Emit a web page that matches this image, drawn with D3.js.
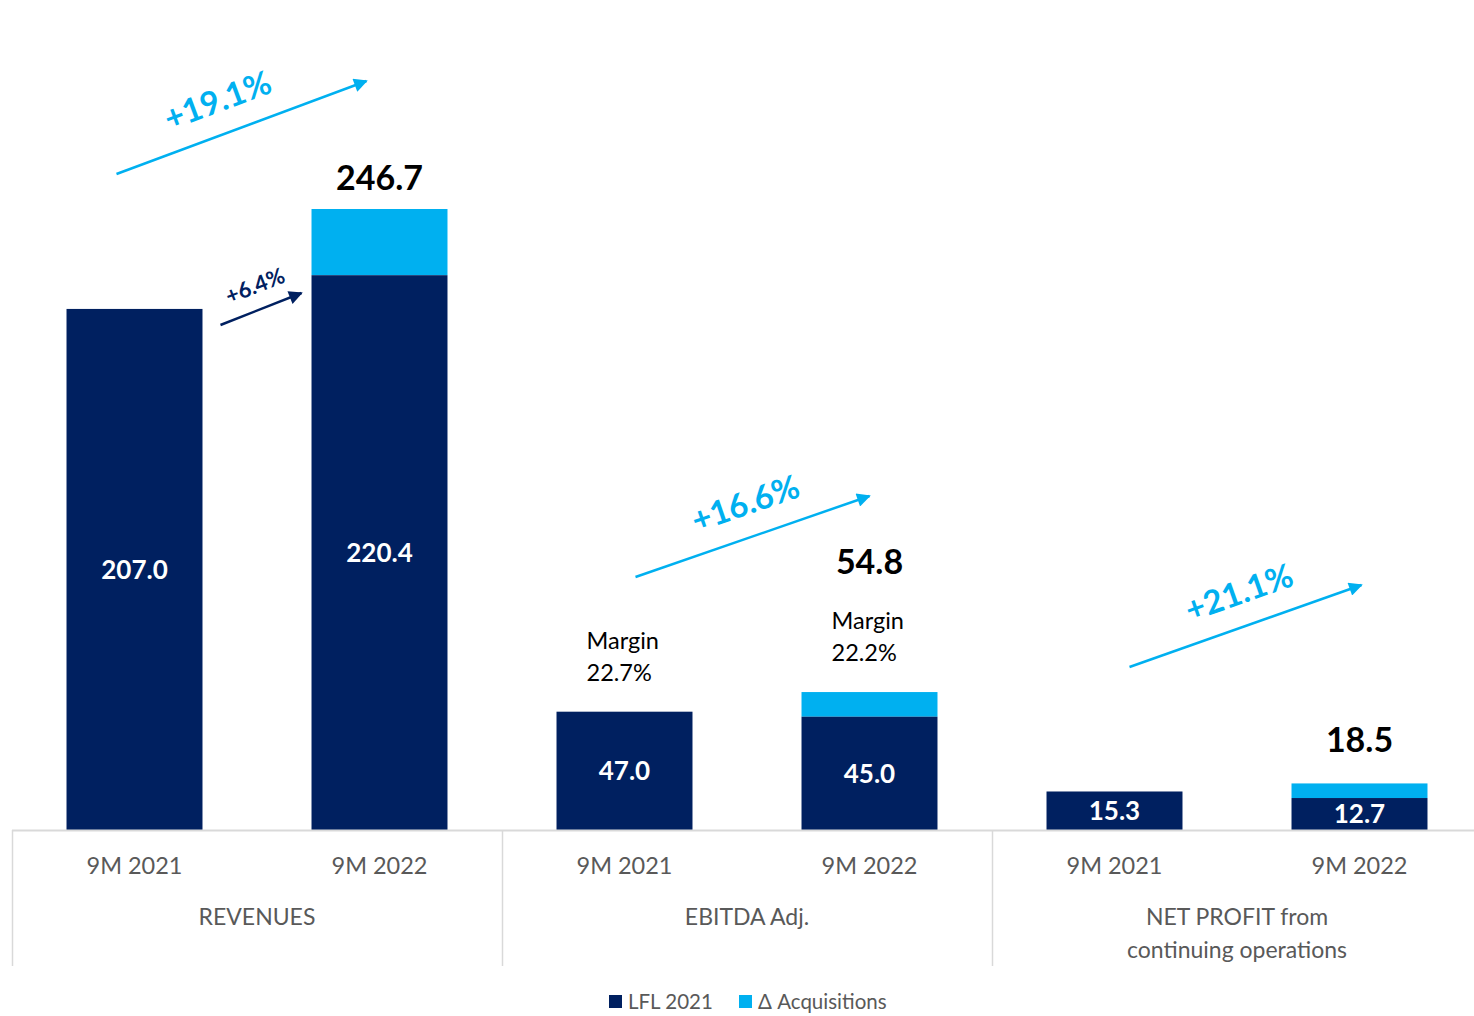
<!DOCTYPE html>
<html>
<head>
<meta charset="utf-8">
<script src="https://cdn.jsdelivr.net/npm/d3@7"></script>
<style>
  body { margin: 0; background: #fff; }
  svg { display: block; font-family: Lato, "Open Sans", sans-serif; }
</style>
</head>
<body>
<div id="chart"></div>
<script>
// Data
const groups = ["REVENUES", "EBITDA Adj.", "NET PROFIT from\ncontinuing operations"];
const periods = ["9M 2021", "9M 2022"];
const lfl = [[207.0, 220.4], [47.0, 45.0], [15.3, 12.7]];
const totals = [[207.0, 246.7], [47.0, 54.8], [15.3, 18.5]];
const growth = ["+19.1%", "+16.6%", "+21.1%"];
const margins = ["22.7%", "22.2%"];

const width = 1474;
const height = 1016;
const navy = "#002060";
const cyan = "#00B0F0";
const grey = "#595959";

const svg = d3.select("#chart").append("svg")
  .attr("width", width)
  .attr("height", height);

const defs = svg.append("defs");
[["head-cyan", cyan], ["head-navy", navy]].forEach(([id, c]) => {
  defs.append("marker")
    .attr("id", id)
    .attr("viewBox", "0 0 10 10")
    .attr("refX", 9).attr("refY", 5)
    .attr("markerWidth", 6).attr("markerHeight", 5.5)
    .attr("markerUnits", "strokeWidth")
    .attr("orient", "auto")
    .append("path").attr("d", "M0,0 L10,5 L0,10 Z").attr("fill", c);
});

// Scales
const x0 = d3.scaleBand().domain(groups).range([12, 1482]);
const x1 = d3.scaleBand().domain(periods).range([0, x0.bandwidth()])
  .paddingInner(0.445).paddingOuter(0.2225);
const y = d3.scaleLinear().domain([0, 246.7]).range([830, 209]);

const bars = [];
groups.forEach((g, gi) => {
  periods.forEach((p, pi) => {
    bars.push({ g, gi, p, pi, lfl: lfl[gi][pi], total: totals[gi][pi] });
  });
});
const bx = d => x0(d.g) + x1(d.p);
const cx = d => bx(d) + x1.bandwidth() / 2;

// Acquisitions segment
svg.selectAll("rect.acq")
  .data(bars.filter(d => d.total > d.lfl))
  .join("rect")
  .attr("x", bx)
  .attr("width", x1.bandwidth())
  .attr("y", d => y(d.total))
  .attr("height", d => y(d.lfl) - y(d.total))
  .attr("fill", cyan);

// LFL segment
svg.selectAll("rect.lfl")
  .data(bars)
  .join("rect")
  .attr("x", bx)
  .attr("width", x1.bandwidth())
  .attr("y", d => y(d.lfl))
  .attr("height", d => y(0) - y(d.lfl))
  .attr("fill", navy);

// Values inside bars
svg.selectAll("text.inner")
  .data(bars)
  .join("text")
  .attr("x", cx)
  .attr("y", d => (y(d.lfl) + y(0)) / 2)
  .attr("dy", "0.36em")
  .attr("text-anchor", "middle")
  .attr("fill", "#fff")
  .attr("font-weight", "bold")
  .attr("font-size", 26)
  .text(d => d.lfl.toFixed(1));

// Totals above 2022 bars
const totalOffset = [31, 130, 44];
svg.selectAll("text.total")
  .data(bars.filter(d => d.pi === 1))
  .join("text")
  .attr("x", cx)
  .attr("y", d => y(d.total) - totalOffset[d.gi])
  .attr("dy", "0.36em")
  .attr("text-anchor", "middle")
  .attr("fill", "#000")
  .attr("font-weight", "bold")
  .attr("font-size", 34)
  .text(d => d.total.toFixed(1));

// Margin notes for EBITDA
bars.filter(d => d.gi === 1).forEach((d, i) => {
  const top = y(d.total) - (i === 0 ? 71 : 72);
  const t = svg.append("text")
    .attr("font-size", 23.5)
    .attr("fill", "#000");
  t.append("tspan").attr("x", bx(d) + 30).attr("y", top).attr("dy", "0.36em").text("Margin");
  t.append("tspan").attr("x", bx(d) + 30).attr("y", top + 32).attr("dy", "0.36em").text(margins[i]);
});

// Growth arrows
function arrow(x1p, y1p, x2p, y2p, color, marker, label, size, along, lift) {
  svg.append("line")
    .attr("x1", x1p).attr("y1", y1p)
    .attr("x2", x2p).attr("y2", y2p)
    .attr("stroke", color)
    .attr("stroke-width", 2.5)
    .attr("marker-end", `url(#${marker})`);
  const ang = Math.atan2(y2p - y1p, x2p - x1p) * 180 / Math.PI;
  const mx = (x1p + x2p) / 2, my = (y1p + y2p) / 2;
  svg.append("text")
    .attr("transform", `translate(${mx},${my}) rotate(${ang}) translate(${along},${-lift})`)
    .attr("text-anchor", "middle")
    .attr("dy", "0.36em")
    .attr("fill", color)
    .attr("font-weight", "bold")
    .attr("font-size", size)
    .text(label);
}

const arrowY = [174, 577, 667];
const arrowRise = [93, 81, 82];
const arrowStart = [-18, 11, 15];
const arrowEnd = [-13, 0, 2];
const labelAlong = [-13, 4, 5];
groups.forEach((g, gi) => {
  const a = bars.find(d => d.gi === gi && d.pi === 0);
  const b = bars.find(d => d.gi === gi && d.pi === 1);
  arrow(cx(a) + arrowStart[gi], arrowY[gi], cx(b) + arrowEnd[gi], arrowY[gi] - arrowRise[gi],
    cyan, "head-cyan", growth[gi], 33, labelAlong[gi], 34);
});

// Like-for-like revenue arrow
{
  const a = bars[0], b = bars[1];
  arrow(bx(a) + x1.bandwidth() + 18, 325, bx(b) - 10, 293, navy, "head-navy", "+6.4%", 22, 3, 24);
}

// Axis line and separators
svg.append("line")
  .attr("x1", 12).attr("x2", width)
  .attr("y1", y(0) + 0.5).attr("y2", y(0) + 0.5)
  .attr("stroke", "#d9d9d9").attr("stroke-width", 2);
groups.forEach(g => {
  svg.append("line")
    .attr("x1", x0(g) + 0.5).attr("x2", x0(g) + 0.5)
    .attr("y1", y(0)).attr("y2", 966)
    .attr("stroke", "#d9d9d9").attr("stroke-width", 1.5);
});

// Period labels
svg.selectAll("text.period")
  .data(bars)
  .join("text")
  .attr("x", cx)
  .attr("y", 866)
  .attr("dy", "0.36em")
  .attr("text-anchor", "middle")
  .attr("fill", grey)
  .attr("font-size", 23.5)
  .text(d => d.p);

// Group labels
groups.forEach(g => {
  const lines = g.split("\n");
  const t = svg.append("text")
    .attr("text-anchor", "middle")
    .attr("fill", grey)
    .attr("font-size", 23);
  lines.forEach((l, i) => {
    t.append("tspan")
      .attr("x", x0(g) + x0.bandwidth() / 2)
      .attr("y", 917 + i * 33)
      .attr("dy", "0.36em")
      .text(l);
  });
});

// Legend
const legend = [["LFL 2021", navy, 609], ["\u0394 Acquisitions", cyan, 739]];
legend.forEach(([label, color, lx]) => {
  svg.append("rect").attr("x", lx).attr("y", 995).attr("width", 13).attr("height", 13).attr("fill", color);
  svg.append("text")
    .attr("x", lx + 19).attr("y", 1002)
    .attr("dy", "0.36em")
    .attr("fill", grey)
    .attr("font-size", 20.5)
    .text(label);
});
</script>
</body>
</html>
